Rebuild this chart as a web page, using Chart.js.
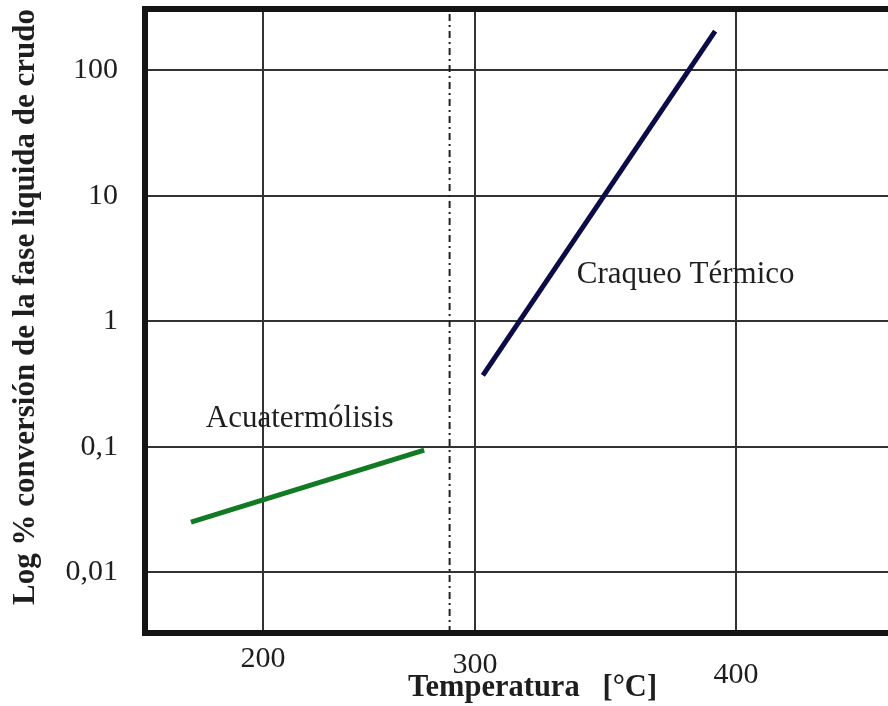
<!DOCTYPE html>
<html>
<head>
<meta charset="utf-8">
<script src="https://cdn.jsdelivr.net/npm/chart.js@4.4.1/dist/chart.umd.min.js"></script>
<style>
  html, body { margin: 0; padding: 0; background: #fff; overflow: hidden; }
  /* the original figure is cut off on the right, so the canvas runs past the window */
  #chart { display: block; }
</style>
</head>
<body>
<canvas id="chart" width="920" height="706"></canvas>
<script>
  // values
  var aquaTemp = [166, 276];
  var aquaConv = [0.025, 0.094];
  var crackTemp = [303, 392];
  var crackConv = [0.37, 205];
  var dividerTemp = 288;

  var xTicks = [200, 300, 400];
  var yTicks = [0.01, 0.1, 1, 10, 100];

  var xTitle = 'Temperatura   [°C]';
  var yTitle = 'Log % conversión de la fase liquida de crudo';
  var noteText = ['Acuatermólisis', 'Craqueo Térmico'];

  // where the notes sit, in data units
  var noteAt = [[173, 0.143], [339, 2.03]];

  var X_MIN = 144.3, X_MAX = 470.5;
  var Y_MIN = 0.00327, Y_MAX = 308;
  var SERIF = '"Liberation Serif", "Times New Roman", serif';
  var INK = '#1e1e1e';

  // the original axis is drawn by hand: 300-400 is wider than 200-300
  var STRETCH = 261 / 212;
  function warp(v) { return v <= 300 ? v : 300 + (v - 300) * STRETCH; }
  function unwarp(v) { return v <= 300 ? v : 300 + (v - 300) / STRETCH; }

  class StretchScale extends Chart.LinearScale {
    configure() {
      super.configure();
      this._startValue = warp(this.min);
      this._valueRange = warp(this.max) - warp(this.min);
    }
    getPixelForValue(value) {
      if (value === null || value === undefined) return NaN;
      return this.getPixelForDecimal((warp(value) - this._startValue) / this._valueRange);
    }
    getValueForPixel(pixel) {
      return unwarp(this._startValue + this.getDecimalForPixel(pixel) * this._valueRange);
    }
  }
  StretchScale.id = 'stretch';
  StretchScale.defaults = Chart.LinearScale.defaults;
  Chart.register(StretchScale);

  function points(xs, ys) {
    return xs.map(function (x, i) { return {x: x, y: ys[i]}; });
  }

  // label padding would otherwise push the plot area in
  function noEdgePadding(s) {
    s.paddingLeft = 0;
    s.paddingRight = 0;
    s.paddingTop = 0;
    s.paddingBottom = 0;
  }

  // thick frame on left, top and bottom (the right side is cut off)
  var frame = {
    id: 'frame',
    afterDraw: function (chart) {
      var a = chart.chartArea, ctx = chart.ctx;
      ctx.save();
      ctx.strokeStyle = '#141414';
      ctx.lineWidth = 6;
      ctx.lineJoin = 'miter';
      ctx.beginPath();
      ctx.moveTo(a.right + 5, a.top);
      ctx.lineTo(a.left, a.top);
      ctx.lineTo(a.left, a.bottom);
      ctx.lineTo(a.right + 5, a.bottom);
      ctx.stroke();
      ctx.restore();
    }
  };

  var notes = {
    id: 'notes',
    afterDatasetsDraw: function (chart) {
      var ctx = chart.ctx, xs = chart.scales.x, ys = chart.scales.y;
      ctx.save();
      ctx.font = '31px ' + SERIF;
      ctx.fillStyle = INK;
      ctx.textAlign = 'left';
      ctx.textBaseline = 'alphabetic';
      noteText.forEach(function (t, i) {
        ctx.fillText(t, xs.getPixelForValue(noteAt[i][0]), ys.getPixelForValue(noteAt[i][1]));
      });
      ctx.restore();
    }
  };

  var xTickLine = ['53px', '65px', '85px'];

  new Chart('chart', {
    type: 'line',
    data: {
      datasets: [
        {
          label: noteText[0],
          data: points(aquaTemp, aquaConv),
          borderColor: '#127a23',
          borderWidth: 5,
          pointRadius: 0
        },
        {
          label: noteText[1],
          data: points(crackTemp, crackConv),
          borderColor: '#0b0b48',
          borderWidth: 5,
          pointRadius: 0
        },
        {
          label: 'limite',
          data: [{x: dividerTemp, y: Y_MIN}, {x: dividerTemp, y: Y_MAX}],
          borderColor: '#222',
          borderWidth: 2,
          borderDash: [7, 4, 2, 4],
          pointRadius: 0
        }
      ]
    },
    options: {
      responsive: false,
      animation: false,
      layout: { padding: { left: 0, top: 9, right: 0, bottom: 0 } },
      plugins: {
        legend: { display: false },
        tooltip: { enabled: false }
      },
      scales: {
        x: {
          type: 'stretch',
          min: X_MIN,
          max: X_MAX,
          afterBuildTicks: function (s) { s.ticks = xTicks.map(function (v) { return {value: v}; }); },
          afterFit: function (s) { s.height = 73; noEdgePadding(s); },
          border: { display: false },
          grid: { color: '#333', lineWidth: 2, drawTicks: false },
          ticks: {
            padding: 0,
            color: INK,
            maxRotation: 0,
            autoSkip: false,
            font: function (c) { return {family: SERIF, size: 30, lineHeight: xTickLine[c.index] || '65px'}; }
          },
          title: {
            display: true,
            text: xTitle,
            color: INK,
            padding: { top: 0, bottom: 0 },
            font: { family: SERIF, size: 30.5, weight: 'bold', lineHeight: 1.2 }
          }
        },
        y: {
          type: 'logarithmic',
          min: Y_MIN,
          max: Y_MAX,
          afterBuildTicks: function (s) { s.ticks = yTicks.map(function (v) { return {value: v}; }); },
          afterFit: function (s) { s.width = 145; noEdgePadding(s); },
          border: { display: false },
          grid: { color: '#333', lineWidth: 2, drawTicks: false },
          ticks: {
            padding: 27,
            color: INK,
            autoSkip: false,
            font: { family: SERIF, size: 30 },
            callback: function (v) { return String(v).replace('.', ','); }
          },
          title: {
            display: true,
            text: yTitle,
            align: 'end',
            color: INK,
            padding: { top: 7, bottom: 0 },
            font: { family: SERIF, size: 31, weight: 'bold', lineHeight: 1.2 }
          }
        }
      }
    },
    plugins: [frame, notes]
  });
</script>
</body>
</html>
